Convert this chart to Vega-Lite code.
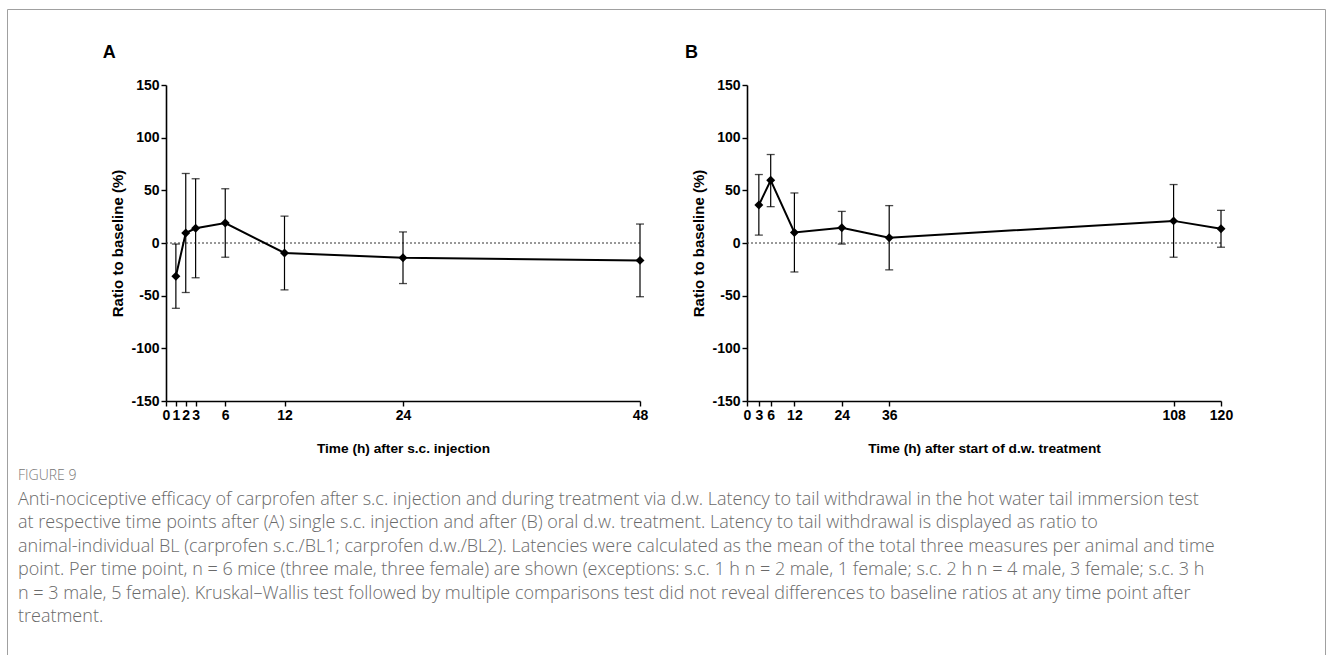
{
  "$schema": "https://vega.github.io/schema/vega-lite/v6.json",
  "width": 1332,
  "height": 655,
  "autosize": {"type": "fit", "contains": "padding"},
  "padding": {"left": 7, "top": 9, "right": 7, "bottom": -4},
  "background": "white",
  "datasets": {
    "scInjection": [
      {"t": 1, "mean": -31.5, "lo": -62, "hi": -1},
      {"t": 2, "mean": 9.5, "lo": -47, "hi": 66},
      {"t": 3, "mean": 14, "lo": -33, "hi": 61},
      {"t": 6, "mean": 19, "lo": -13.5, "hi": 51.5},
      {"t": 12, "mean": -9.5, "lo": -44.5, "hi": 25.5},
      {"t": 24, "mean": -14, "lo": -38.5, "hi": 10.5},
      {"t": 48, "mean": -16.5, "lo": -51, "hi": 18}
    ],
    "dwTreatment": [
      {"t": 3, "mean": 36, "lo": 7.5, "hi": 65},
      {"t": 6, "mean": 59.5, "lo": 34.5, "hi": 84},
      {"t": 12, "mean": 10, "lo": -27.5, "hi": 47.5},
      {"t": 24, "mean": 14.5, "lo": -1, "hi": 30},
      {"t": 36, "mean": 5, "lo": -25.5, "hi": 35.5},
      {"t": 108, "mean": 21, "lo": -13.5, "hi": 55.5},
      {"t": 120, "mean": 13.5, "lo": -4, "hi": 31}
    ],
    "baselineA": [{"ref": 0, "start": 0, "end": 48}],
    "baselineB": [{"ref": 0, "start": 0, "end": 120}],
    "labelA": [{"panel": "A"}],
    "labelB": [{"panel": "B"}]
  },
  "title": {
    "text": "FIGURE 9",
    "subtitle": [
      "Anti-nociceptive efficacy of carprofen after s.c. injection and during treatment via d.w. Latency to tail withdrawal in the hot water tail immersion test",
      "at respective time points after (A) single s.c. injection and after (B) oral d.w. treatment. Latency to tail withdrawal is displayed as ratio to",
      "animal-individual BL (carprofen s.c./BL1; carprofen d.w./BL2). Latencies were calculated as the mean of the total three measures per animal and time",
      "point. Per time point, n = 6 mice (three male, three female) are shown (exceptions: s.c. 1 h n = 2 male, 1 female; s.c. 2 h n = 4 male, 3 female; s.c. 3 h",
      "n = 3 male, 5 female). Kruskal–Wallis test followed by multiple comparisons test did not reveal differences to baseline ratios at any time point after",
      "treatment."
    ],
    "orient": "bottom",
    "anchor": "start",
    "frame": "group",
    "offset": -190,
    "dx": 11,
    "baseline": "top",
    "font": "Open Sans",
    "fontSize": 14,
    "fontWeight": 300,
    "color": "#777777",
    "subtitleFont": "Open Sans",
    "subtitleFontSize": 18,
    "subtitleFontWeight": 300,
    "subtitleColor": "#6a6a6a",
    "subtitleLineHeight": 23.4,
    "subtitlePadding": 8
  },
  "config": {
    "view": {"stroke": "#a0a0a0", "strokeWidth": 1},
    "axis": {
      "grid": false,
      "domainColor": "black",
      "domainWidth": 1.6,
      "tickColor": "black",
      "tickWidth": 1.4,
      "tickSize": 5,
      "labelPadding": 2,
      "labelFont": "Liberation Sans",
      "labelFontSize": 14,
      "labelFontWeight": "bold",
      "labelColor": "black",
      "labelOverlap": false,
      "labelFlush": false,
      "labelExpr": "'' + datum.value",
      "titleFont": "Liberation Sans",
      "titleFontWeight": "bold",
      "titleColor": "black"
    }
  },
  "layer": [
    {
      "data": {"name": "scInjection"},
      "layer": [
        {
          "data": {"name": "baselineA"},
          "mark": {"type": "rule", "strokeDash": [2, 2], "strokeWidth": 1, "color": "#333333"},
          "encoding": {
            "x": {"field": "start", "type": "quantitative"},
            "x2": {"field": "end"},
            "y": {"field": "ref", "type": "quantitative"}
          }
        },
        {
          "mark": {"type": "rule", "strokeWidth": 1.2, "color": "black"},
          "encoding": {
            "x": {"field": "t", "type": "quantitative"},
            "y": {"field": "lo", "type": "quantitative"},
            "y2": {"field": "hi"}
          }
        },
        {
          "mark": {"type": "tick", "orient": "horizontal", "size": 8, "thickness": 1.3, "color": "black"},
          "encoding": {
            "x": {"field": "t", "type": "quantitative"},
            "y": {"field": "lo", "type": "quantitative"}
          }
        },
        {
          "mark": {"type": "tick", "orient": "horizontal", "size": 8, "thickness": 1.3, "color": "black"},
          "encoding": {
            "x": {"field": "t", "type": "quantitative"},
            "y": {"field": "hi", "type": "quantitative"}
          }
        },
        {
          "mark": {"type": "line", "strokeWidth": 2, "color": "black"},
          "encoding": {
            "x": {
              "field": "t", "type": "quantitative",
              "scale": {"domain": [0, 48], "range": [159, 633], "nice": false, "zero": false},
              "axis": {"orient": "bottom", "offset": -258, "values": [0, 1, 2, 3, 6, 12, 24, 48], "title": "Time (h) after s.c. injection", "titleFontSize": 13.7, "titlePadding": 19}
            },
            "y": {
              "field": "mean", "type": "quantitative",
              "scale": {"domain": [-150, 150], "range": [392, 76], "nice": false, "zero": false},
              "axis": {"orient": "left", "offset": -159, "values": [-150, -100, -50, 0, 50, 100, 150], "title": "Ratio to baseline (%)", "titleFontSize": 15, "titlePadding": 5}
            }
          }
        },
        {
          "mark": {"type": "point", "shape": "diamond", "filled": true, "size": 80, "color": "black", "opacity": 1},
          "encoding": {
            "x": {"field": "t", "type": "quantitative"},
            "y": {"field": "mean", "type": "quantitative"}
          }
        },
        {
          "data": {"name": "labelA"},
          "mark": {"type": "text", "align": "left", "baseline": "middle", "font": "Liberation Sans", "fontSize": 18, "fontWeight": "bold", "color": "black"},
          "encoding": {
            "text": {"field": "panel", "type": "nominal"},
            "x": {"datum": -6.4, "type": "quantitative"},
            "y": {"datum": 180.7, "type": "quantitative"}
          }
        }
      ]
    },
    {
      "data": {"name": "dwTreatment"},
      "layer": [
        {
          "data": {"name": "baselineB"},
          "mark": {"type": "rule", "strokeDash": [2, 2], "strokeWidth": 1, "color": "#333333"},
          "encoding": {
            "x": {"field": "start", "type": "quantitative"},
            "x2": {"field": "end"},
            "y": {"field": "ref", "type": "quantitative"}
          }
        },
        {
          "mark": {"type": "rule", "strokeWidth": 1.2, "color": "black"},
          "encoding": {
            "x": {"field": "t", "type": "quantitative"},
            "y": {"field": "lo", "type": "quantitative"},
            "y2": {"field": "hi"}
          }
        },
        {
          "mark": {"type": "tick", "orient": "horizontal", "size": 8, "thickness": 1.3, "color": "black"},
          "encoding": {
            "x": {"field": "t", "type": "quantitative"},
            "y": {"field": "lo", "type": "quantitative"}
          }
        },
        {
          "mark": {"type": "tick", "orient": "horizontal", "size": 8, "thickness": 1.3, "color": "black"},
          "encoding": {
            "x": {"field": "t", "type": "quantitative"},
            "y": {"field": "hi", "type": "quantitative"}
          }
        },
        {
          "mark": {"type": "line", "strokeWidth": 2, "color": "black"},
          "encoding": {
            "x": {
              "field": "t", "type": "quantitative",
              "scale": {"domain": [0, 120], "range": [740, 1214], "nice": false, "zero": false},
              "axis": {"orient": "bottom", "offset": -258, "values": [0, 3, 6, 12, 24, 36, 108, 120], "title": "Time (h) after start of d.w. treatment", "titleFontSize": 13.7, "titlePadding": 19}
            },
            "y": {
              "field": "mean", "type": "quantitative",
              "scale": {"domain": [-150, 150], "range": [392, 76], "nice": false, "zero": false},
              "axis": {"orient": "left", "offset": -740, "values": [-150, -100, -50, 0, 50, 100, 150], "title": "Ratio to baseline (%)", "titleFontSize": 15, "titlePadding": 5}
            }
          }
        },
        {
          "mark": {"type": "point", "shape": "diamond", "filled": true, "size": 80, "color": "black", "opacity": 1},
          "encoding": {
            "x": {"field": "t", "type": "quantitative"},
            "y": {"field": "mean", "type": "quantitative"}
          }
        },
        {
          "data": {"name": "labelB"},
          "mark": {"type": "text", "align": "left", "baseline": "middle", "font": "Liberation Sans", "fontSize": 18, "fontWeight": "bold", "color": "black"},
          "encoding": {
            "text": {"field": "panel", "type": "nominal"},
            "x": {"datum": -15.7, "type": "quantitative"},
            "y": {"datum": 180.7, "type": "quantitative"}
          }
        }
      ]
    }
  ],
  "resolve": {"scale": {"x": "independent", "y": "independent"}}
}
